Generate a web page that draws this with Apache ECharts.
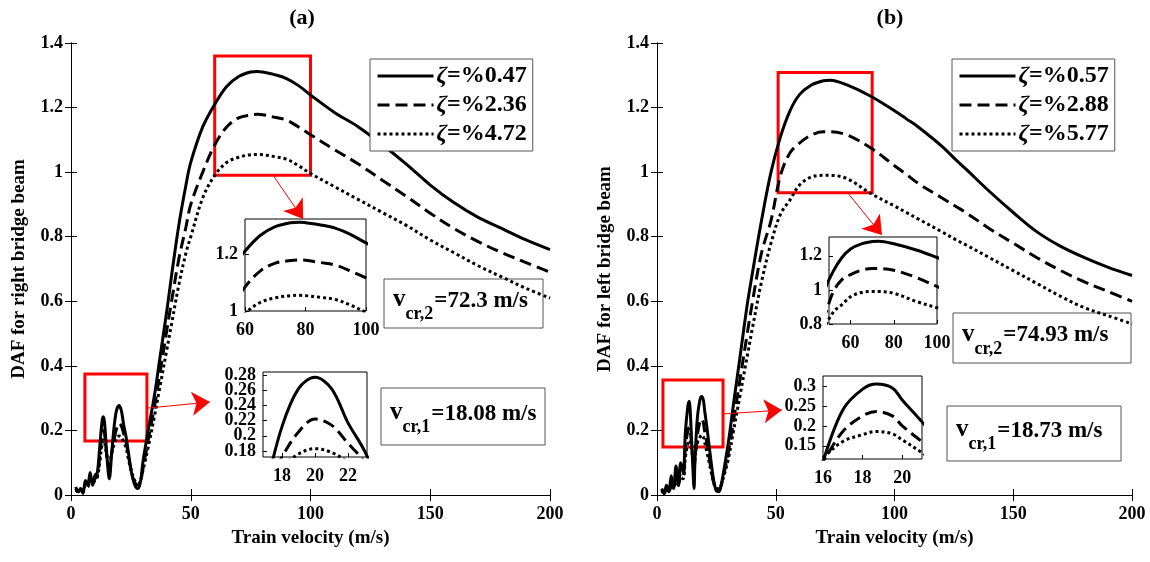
<!DOCTYPE html>
<html><head><meta charset="utf-8">
<script src="https://cdn.jsdelivr.net/npm/echarts@6/dist/echarts.min.js"></script>
<style>html,body{margin:0;padding:0;background:#fff}#c{width:1150px;height:562px}</style>
</head><body><div id="c"></div>
<script>
// ---------- data: panel (a) right bridge beam ----------
const velA = [2,3,4,5,6,7,8,9,10,11,12,13,13.5,14,15,16,17,18,19,20,21,22,23,24,25,26,27,28,29,30,32,35,37,40,42,45,48,50,55,60,65,70,75,78,80,85,90,95,100,110,120,130,140,150,160,170,180,190,200];
const dafA1 = [0.025,0.01,0.02,0.005,0.045,0.03,0.07,0.03,0.06,0.07,0.15,0.23,0.242,0.225,0.12,0.05,0.13,0.212,0.262,0.277,0.262,0.217,0.18,0.13,0.08,0.045,0.025,0.02,0.04,0.1,0.19,0.316,0.418,0.57,0.68,0.835,0.96,1.03,1.14,1.21,1.265,1.296,1.31,1.312,1.31,1.302,1.29,1.268,1.239,1.185,1.14,1.085,1.025,0.96,0.905,0.86,0.825,0.79,0.76];
const dafA2 = [0.02,0.01,0.015,0.01,0.035,0.03,0.055,0.035,0.05,0.06,0.12,0.19,0.2,0.19,0.12,0.08,0.13,0.172,0.205,0.222,0.214,0.19,0.165,0.12,0.08,0.05,0.035,0.03,0.04,0.08,0.16,0.28,0.37,0.51,0.6,0.73,0.83,0.9,1.0,1.084,1.14,1.168,1.177,1.179,1.178,1.17,1.161,1.14,1.116,1.07,1.025,0.975,0.925,0.873,0.825,0.785,0.75,0.72,0.69];
const dafA3 = [0.015,0.01,0.012,0.01,0.03,0.025,0.045,0.035,0.045,0.055,0.1,0.16,0.17,0.165,0.12,0.1,0.13,0.158,0.176,0.183,0.178,0.165,0.145,0.11,0.08,0.055,0.04,0.035,0.045,0.075,0.14,0.25,0.33,0.45,0.53,0.65,0.75,0.8,0.92,0.99,1.03,1.046,1.054,1.055,1.054,1.048,1.04,1.02,0.996,0.955,0.915,0.875,0.835,0.79,0.75,0.71,0.675,0.64,0.61];
const namesA = ['ζ=%0.47','ζ=%2.36','ζ=%4.72'];
const vcrA = ['72.3','18.08'];
const zoomBoxesA = [[[60,0.99],[100,1.36]],[[5.8,0.167],[31.7,0.375]]];
const arrowsA = [[[84.3,0.991],[96.9,0.855]],[[31.7,0.269],[58,0.288]]];

// ---------- data: panel (b) left bridge beam ----------
const velB = [2,3,4,5,6,7,8,9,10,11,12,13,13.6,14,15,15.6,16,17,18,18.7,19.5,20,21,22,23,24,25,26,27,28,30,32,35,38,40,44,48,52,56,60,65,70,73,80,90,100,105,110,120,126,130,140,150,160,170,180,190,200];
const dafB1 = [0.02,0.005,0.03,0.01,0.06,0.02,0.09,0.03,0.1,0.07,0.2,0.275,0.29,0.26,0.1,0.02,0.11,0.24,0.292,0.305,0.295,0.265,0.21,0.15,0.09,0.04,0.012,0.01,0.03,0.07,0.16,0.27,0.43,0.59,0.68,0.85,1.0,1.11,1.19,1.24,1.27,1.283,1.285,1.27,1.235,1.19,1.165,1.14,1.08,1.037,1.01,0.94,0.875,0.815,0.77,0.735,0.705,0.68];
const dafB2 = [0.015,0.005,0.02,0.01,0.04,0.02,0.06,0.03,0.07,0.06,0.15,0.2,0.21,0.2,0.12,0.08,0.11,0.186,0.225,0.236,0.225,0.2,0.16,0.115,0.07,0.035,0.015,0.015,0.03,0.06,0.13,0.22,0.36,0.5,0.59,0.75,0.85,0.99,1.06,1.09,1.115,1.125,1.125,1.115,1.075,1.02,0.993,0.965,0.92,0.893,0.875,0.825,0.78,0.735,0.695,0.66,0.63,0.6];
const dafB3 = [0.012,0.005,0.015,0.01,0.03,0.02,0.05,0.03,0.055,0.05,0.12,0.16,0.17,0.165,0.12,0.1,0.12,0.161,0.178,0.186,0.18,0.165,0.133,0.1,0.065,0.035,0.02,0.02,0.03,0.055,0.11,0.19,0.31,0.43,0.51,0.66,0.78,0.87,0.914,0.96,0.985,0.99,0.99,0.98,0.934,0.895,0.875,0.855,0.815,0.79,0.775,0.735,0.695,0.655,0.615,0.58,0.555,0.53];
const namesB = ['ζ=%0.57','ζ=%2.88','ζ=%5.77'];
const vcrB = ['74.93','18.73'];
const zoomBoxesB = [[[51,0.936],[90.6,1.309]],[[2.5,0.149],[27.8,0.356]]];
const arrowsB = [[[80.4,0.935],[94.7,0.805]],[[27.8,0.251],[52.6,0.263]]];

// main axes ticks
const mainXTicks = {min:0,max:200,interval:50};
const mainYTicks = {min:0,max:1.4,interval:0.2};
// inset axes (yt2: second set of y labels drawn by an overlaid axis so none get hidden)
const insetA1 = {x:[60,100],xt:[60,80,100],y:[1,1.323],yt:[1,1.2]};
const insetA2 = {x:[16.85,23.15],xt:[18,20,22],y:[0.172,0.284],yt:[0.18,0.22,0.26],yt2:[0.2,0.24,0.28]};
const insetB1 = {x:[50,100],xt:[60,80,100],y:[0.8,1.31],yt:[0.8,1,1.2]};
const insetB2 = {x:[16,21],xt:[16,18,20],y:[0.117,0.325],yt:[0.15,0.2,0.25,0.3]};

const FONT = "'Liberation Serif','Times New Roman',serif";
const dashes = ['solid',[12,6],[3,3]];

const chart = echarts.init(document.getElementById('c'));
const pairs = (v,y)=>v.map((x,i)=>[x,y[i]]);

const grids = [
  {left:71,top:43,width:479,height:452},
  {left:657,top:43,width:475,height:452},
  {left:245,top:219,width:121,height:92,show:true,borderColor:'#000',borderWidth:1,backgroundColor:'#fff'},
  {left:263,top:372,width:104,height:85,show:true,borderColor:'#000',borderWidth:1,backgroundColor:'#fff'},
  {left:829,top:237,width:108,height:87,show:true,borderColor:'#000',borderWidth:1,backgroundColor:'#fff'},
  {left:823,top:376,width:99,height:83,show:true,borderColor:'#000',borderWidth:1,backgroundColor:'#fff'}
];
const lbl = {fontFamily:FONT,fontWeight:'bold',fontSize:18,color:'#000'};
const xAxes=[], yAxes=[];
function mainAxes(g, yname){
  xAxes.push({gridIndex:g,type:'value',...mainXTicks,position:'bottom',
    axisLine:{lineStyle:{color:'#000',width:1}},axisTick:{inside:true,length:6,lineStyle:{color:'#000'}},
    axisLabel:{...lbl,margin:10},splitLine:{show:false},
    name:'Train velocity (m/s)',nameLocation:'middle',nameGap:34,nameTextStyle:{...lbl,fontSize:19}});
  xAxes.push({gridIndex:g,type:'value',...mainXTicks,position:'top',
    axisLine:{lineStyle:{color:'#000',width:1}},axisTick:{inside:true,length:6,lineStyle:{color:'#000'}},
    axisLabel:{show:false},splitLine:{show:false}});
  yAxes.push({gridIndex:g,type:'value',...mainYTicks,position:'left',
    axisLine:{show:true,lineStyle:{color:'#000',width:1}},axisTick:{show:true,inside:true,length:6,lineStyle:{color:'#000'}},
    axisLabel:{...lbl,margin:8},splitLine:{show:false},
    name:yname,nameLocation:'middle',nameGap:42,nameTextStyle:{...lbl,fontSize:19}});
  yAxes.push({gridIndex:g,type:'value',...mainYTicks,position:'right',
    axisLine:{show:true,lineStyle:{color:'#000',width:1}},axisTick:{show:true,inside:true,length:6,lineStyle:{color:'#000'}},
    axisLabel:{show:false},splitLine:{show:false}});
}
function insetY(g,cfg,vals){
  return {gridIndex:g,type:'value',min:cfg.y[0],max:cfg.y[1],position:'left',offset:0,
    axisLine:{show:false},axisTick:{show:true,inside:true,length:4,customValues:vals,lineStyle:{color:'#000'}},
    axisLabel:{...lbl,margin:7,interval:0,customValues:vals,lineHeight:12,showMinLabel:true,showMaxLabel:true,hideOverlap:false},splitLine:{show:false}};
}
function insetAxes(g, cfg){
  const idx = yAxes.length;
  xAxes.push({gridIndex:g,type:'value',min:cfg.x[0],max:cfg.x[1],
    axisLine:{show:false},axisTick:{inside:true,length:4,customValues:cfg.xt,lineStyle:{color:'#000'}},
    axisLabel:{...lbl,margin:10,interval:0,customValues:cfg.xt,showMinLabel:true,showMaxLabel:true,hideOverlap:false},splitLine:{show:false}});
  yAxes.push(insetY(g,cfg,cfg.yt));
  return {x:xAxes.length-1,y:idx};
}
mainAxes(0,'DAF for right bridge beam');   // x0,x1 / y0,y1
mainAxes(1,'DAF for left bridge beam');    // x2,x3 / y2,y3
const iA1 = insetAxes(2,insetA1);
const iA2 = insetAxes(3,insetA2);
const iB1 = insetAxes(4,insetB1);
const iB2 = insetAxes(5,insetB2);
yAxes.push(insetY(3,insetA2,insetA2.yt2));

const series=[];
function addSeries(vel, sets, names, mainIdx, insets, boxes, arrows){
  sets.forEach((ys,k)=>{
    const s = {type:'line',name:names[k],xAxisIndex:mainIdx.x,yAxisIndex:mainIdx.y,
      data:pairs(vel,ys),showSymbol:false,symbol:'none',smooth:0.35,z:3,
      lineStyle:{color:'#000',width:3,type:dashes[k],cap:'butt'},itemStyle:{color:'#000'}};
    if(k===0){
      s.markArea={silent:true,itemStyle:{color:'rgba(0,0,0,0)',borderColor:'#ff0000',borderWidth:3},
        data:boxes.map(b=>[{coord:b[0]},{coord:b[1]}])};
      s.markLine={silent:true,symbol:['none','arrow'],symbolSize:18,label:{show:false},
        lineStyle:{color:'#ff0000',width:1,type:'solid'},emphasis:{disabled:true},
        data:arrows.map(a=>[{coord:a[0]},{coord:a[1]}])};
    }
    series.push(s);
    insets.forEach((ix,j)=>{
      series.push({type:'line',name:names[k]+' inset'+j,xAxisIndex:ix.x,yAxisIndex:ix.y,
        data:pairs(vel,ys),showSymbol:false,symbol:'none',smooth:0.35,z:4,
        lineStyle:{color:'#000',width:3,type:dashes[k],cap:'butt'}});
    });
  });
}
addSeries(velA,[dafA1,dafA2,dafA3],namesA,{x:0,y:0},[iA1,iA2],zoomBoxesA,arrowsA);
addSeries(velB,[dafB1,dafB2,dafB3],namesB,{x:2,y:2},[iB1,iB2],zoomBoxesB,arrowsB);

function legend(names,left,top){
  return {data:names,left:left,top:top,orient:'vertical',itemWidth:56,itemHeight:14,itemGap:5,
    padding:[5,6,5,6],borderColor:'#555',borderWidth:1,backgroundColor:'#fff',selectedMode:false,
    itemStyle:{opacity:0},lineStyle:{width:3},
    formatter:n=>'{i|ζ}{b|'+n.slice(1)+'}',
    textStyle:{padding:[0,0,0,-2],rich:{i:{fontFamily:FONT,fontStyle:'italic',fontWeight:'bold',fontSize:24,color:'#000'},
      b:{fontFamily:FONT,fontWeight:'bold',fontSize:24,color:'#000'}}}};
}

// annotation boxes (v_cr)
const meas = document.createElement('canvas').getContext('2d');
function tw(t,size){meas.font='bold '+size+'px '+FONT;return meas.measureText(t).width;}
function vcrBox(x,y,w,h,sub,val){
  const tx=x+9, B=y+h/2+4, S=B+12;
  const main='='+val+' m/s';
  return {type:'group',children:[
    {type:'rect',shape:{x:x,y:y,width:w,height:h},style:{fill:'none',stroke:'#555',lineWidth:1},z:1},
    {type:'text',x:tx,y:B+5,style:{text:'v',font:'bold 25px '+FONT,fill:'#000',verticalAlign:'bottom'},z:1},
    {type:'text',x:tx+tw('v',25),y:S+4,style:{text:sub,font:'bold 18px '+FONT,fill:'#000',verticalAlign:'bottom'},z:1},
    {type:'text',x:tx+tw('v',25)+tw(sub,18)+1,y:B+5,style:{text:main,font:'bold 23px '+FONT,fill:'#000',verticalAlign:'bottom'},z:1}
  ]};
}

chart.setOption({
  animation:false,
  backgroundColor:'#fff',
  grid:grids,xAxis:xAxes,yAxis:yAxes,series:series,
  legend:[legend(namesA,370,59),legend(namesB,952,59)],
  graphic:[
    {type:'text',x:302,y:7,style:{text:'(a)',font:'bold 22px '+FONT,fill:'#000',align:'center'}},
    {type:'text',x:890,y:7,style:{text:'(b)',font:'bold 22px '+FONT,fill:'#000',align:'center'}},
    vcrBox(384,279,159,49,'cr,2',vcrA[0]),
    vcrBox(381,388,164,57,'cr,1',vcrA[1]),
    vcrBox(953,313,178,50,'cr,2',vcrB[0]),
    vcrBox(947,406,174,55,'cr,1',vcrB[1])
  ]
});
</script></body></html>
